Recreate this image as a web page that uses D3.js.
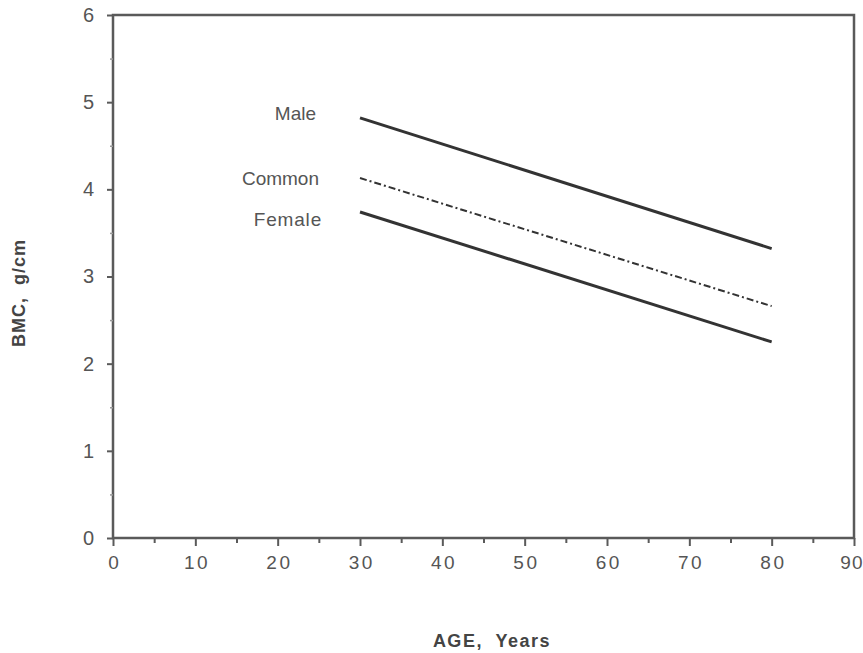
<!DOCTYPE html>
<html><head><meta charset="utf-8">
<script src="https://cdn.jsdelivr.net/npm/d3@7"></script>
<style>body{margin:0;background:#fff}text{font-family:"Liberation Sans",Arial,sans-serif}</style>
</head><body><svg id="c" width="863" height="653"></svg>
<script>
const xTicks = [0,10,20,30,40,50,60,70,80,90];
const yTicks = [0,1,2,3,4,5,6];
const seriesNames = ["Male","Common","Female"];
const ages = [30,80];
const maleBMC = [4.82,3.32];
const commonBMC = [4.13,2.66];
const femaleBMC = [3.74,2.25];

const svg = d3.select("#c");
const m = {l:113,r:854,t:15,b:538};
const x = d3.scaleLinear().domain([0,90]).range([m.l,m.r]);
const y = d3.scaleLinear().domain([0,6]).range([m.b,m.t]);
const axisCol = "#5a5a5a";

// frame
svg.append("rect").attr("x",m.l).attr("y",m.t).attr("width",m.r-m.l).attr("height",m.b-m.t)
  .attr("fill","none").attr("stroke",axisCol).attr("stroke-width",2.5);

// x axis
const xa = svg.append("g").attr("transform",`translate(0,${m.b})`)
  .call(d3.axisBottom(x).tickValues(xTicks).tickSize(8).tickPadding(10).tickFormat(d=>d));
xa.select(".domain").remove();
xa.selectAll("line").attr("stroke",axisCol).attr("stroke-width",2);
xa.selectAll("text").attr("fill","#555").attr("font-size",19).style("letter-spacing","2.5px").attr("dx","1.25");
xa.selectAll("text").filter(d=>d===90).attr("text-anchor","end").attr("dx",0).attr("x",9).style("letter-spacing","1px");
const xm = svg.append("g").attr("transform",`translate(0,${m.b})`)
  .call(d3.axisBottom(x).tickValues(d3.range(5,90,10)).tickSize(5).tickFormat(""));
xm.select(".domain").remove();
xm.selectAll("line").attr("stroke",axisCol).attr("stroke-width",2);

// y axis
const ya = svg.append("g").attr("transform",`translate(${m.l},0)`)
  .call(d3.axisLeft(y).tickValues(yTicks).tickSize(6).tickPadding(13).tickFormat(d=>d));
ya.select(".domain").remove();
ya.selectAll("line").attr("stroke",axisCol).attr("stroke-width",2);
ya.selectAll("text").attr("fill","#555").attr("font-size",20);
const ym = svg.append("g").attr("transform",`translate(${m.l},0)`)
  .call(d3.axisLeft(y).tickValues(d3.range(0.5,6,1)).tickSize(3).tickFormat(""));
ym.select(".domain").remove();
ym.selectAll("line").attr("stroke","#999").attr("stroke-width",1.5);

// lines
const line = d3.line().x((d,i)=>x(ages[i])).y(d=>y(d));
const styles = {
  Male:{data:maleBMC,w:3,dash:null},
  Common:{data:commonBMC,w:2,dash:"7,3,2,3"},
  Female:{data:femaleBMC,w:3,dash:null}
};
seriesNames.forEach(n=>{
  const s = styles[n];
  svg.append("path").attr("d",line(s.data)).attr("fill","none")
    .attr("stroke","#333").attr("stroke-width",s.w).attr("stroke-dasharray",s.dash);
});
svg.append("text").attr("x",316).attr("y",y(maleBMC[0])-3).attr("text-anchor","end").attr("dominant-baseline","middle")
  .attr("font-size",19).attr("fill","#555").text("Male");
svg.append("text").attr("x",319).attr("y",y(commonBMC[0])+2).attr("text-anchor","end").attr("dominant-baseline","middle")
  .attr("font-size",19).attr("fill","#555").text("Common");
svg.append("text").attr("x",322).attr("y",y(femaleBMC[0])+9).attr("text-anchor","end").attr("dominant-baseline","middle")
  .attr("font-size",19).attr("fill","#555").style("letter-spacing","0.8px").text("Female");

// axis titles
svg.append("text").attr("transform","translate(25,293) rotate(-90)").attr("text-anchor","middle")
  .attr("font-size",18).attr("font-weight","bold").attr("fill","#444").style("letter-spacing","1px").attr("xml:space","preserve").text("BMC,  g/cm");
svg.append("text").attr("x",492).attr("y",647).attr("text-anchor","middle")
  .attr("font-size",18).attr("font-weight","bold").attr("fill","#444").style("letter-spacing","1.5px").attr("xml:space","preserve").text("AGE,  Years");
</script></body></html>
